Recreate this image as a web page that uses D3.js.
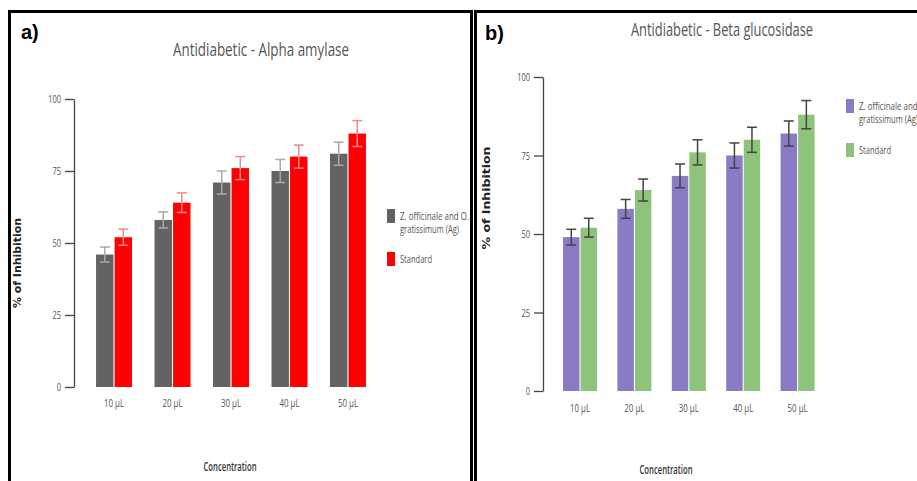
<!DOCTYPE html>
<html>
<head>
<meta charset="utf-8">
<script src="https://cdn.jsdelivr.net/npm/d3@7"></script>
<style>
  html, body { margin: 0; padding: 0; background: #fff; overflow: hidden; }
  svg { display: block; }
</style>
</head>
<body>
<svg id="chart" width="917" height="481"></svg>
<script>
// ---- data ----
const categories = ["10 µL", "20 µL", "30 µL", "40 µL", "50 µL"];
const yTicks = [0, 25, 50, 75, 100];
const seriesNames = ["Z. officinale and O. gratissimum (Ag)", "Standard"];

const alphaSample = [46, 58, 71, 75, 81];
const alphaSampleErr = [2.6, 2.8, 4, 4, 4];
const alphaStandard = [52, 64, 76, 80, 88];
const alphaStandardErr = [2.8, 3.4, 4, 4, 4.5];

const betaSample = [49, 58, 68.5, 75, 82];
const betaSampleErr = [2.5, 3, 3.8, 4, 4];
const betaStandard = [52, 64, 76, 80, 88];
const betaStandardErr = [3, 3.5, 4, 4, 4.5];

// ---- drawing ----
const svg = d3.select("#chart");
const narrow = "'Open Sans', 'DejaVu Sans', sans-serif";

// emulate a condensed face by compressing each text horizontally
function condense(sel, f) {
  sel.each(function () {
    const w = this.getComputedTextLength();
    d3.select(this).attr("textLength", w * f).attr("lengthAdjust", "spacingAndGlyphs");
  });
}
function fit(sel, w) {
  sel.attr("textLength", w).attr("lengthAdjust", "spacingAndGlyphs");
}

function drawPanel(cfg) {
  const g = svg.append("g");
  // frame
  g.append("rect")
    .attr("x", cfg.frame[0]).attr("y", cfg.frame[1])
    .attr("width", cfg.frame[2]).attr("height", cfg.frame[3])
    .attr("fill", "none").attr("stroke", "#000").attr("stroke-width", 3);

  const y = d3.scaleLinear().domain([0, 100]).range([cfg.y0, cfg.y100]);
  const x = d3.scaleBand().domain(categories).range(cfg.xRange)
    .paddingInner(cfg.padInner).paddingOuter(0.3);
  const xi = d3.scaleBand().domain([0, 1]).range([0, x.bandwidth()]).paddingInner(0.06);

  // y axis
  const ya = g.append("g").attr("transform", `translate(${cfg.axisX},0)`)
    .call(d3.axisLeft(y).tickValues(yTicks).tickSize(9).tickSizeOuter(0).tickPadding(4));
  ya.select(".domain").attr("stroke", "#444").attr("stroke-width", 1.3);
  ya.selectAll(".tick line").attr("stroke", "#444").attr("stroke-width", 1.3);
  const yt = ya.selectAll(".tick text").attr("fill", "#555").style("font-family", narrow).style("font-size", "11px");
  condense(yt, 0.68);

  // x axis labels
  const xa = g.append("g").attr("transform", `translate(0,${cfg.y0})`)
    .call(d3.axisBottom(x).tickSize(0).tickPadding(cfg.xPad));
  xa.select(".domain").remove();
  const xt = xa.selectAll(".tick text").attr("fill", "#555").style("font-family", narrow).style("font-size", "11px");
  condense(xt, 0.72);

  const series = [
    { vals: cfg.s1, errs: cfg.e1, color: cfg.c1, ec: cfg.ec1 },
    { vals: cfg.s2, errs: cfg.e2, color: cfg.c2, ec: cfg.ec2 }
  ];
  series.forEach((s, si) => {
    const sg = g.append("g");
    sg.selectAll("rect").data(categories).join("rect")
      .attr("x", (c) => x(c) + xi(si))
      .attr("width", xi.bandwidth())
      .attr("y", (c, i) => y(s.vals[i]))
      .attr("height", (c, i) => y(0) - y(s.vals[i]))
      .attr("fill", s.color);
    const eg = g.append("g").attr("stroke", s.ec).attr("stroke-width", 1.5).attr("fill", "none");
    categories.forEach((c, i) => {
      const cx = x(c) + xi(si) + xi.bandwidth() / 2;
      const hi = y(s.vals[i] + s.errs[i]), lo = y(s.vals[i] - s.errs[i]);
      eg.append("line").attr("x1", cx).attr("x2", cx).attr("y1", hi).attr("y2", lo);
      eg.append("line").attr("x1", cx - 5).attr("x2", cx + 5).attr("y1", hi).attr("y2", hi);
      eg.append("line").attr("x1", cx - 5).attr("x2", cx + 5).attr("y1", lo).attr("y2", lo);
    });
  });

  // title
  const tt = g.append("text").attr("x", cfg.titleX).attr("y", cfg.titleY)
    .attr("text-anchor", "middle").attr("fill", "#555")
    .style("font-family", narrow).style("font-size", "19px")
    .text(cfg.title);
  fit(tt, cfg.titleW);
  // panel letter
  g.append("text").attr("x", cfg.letterX).attr("y", cfg.letterY)
    .attr("fill", "#000").style("font-family", "'Liberation Sans', Arial, sans-serif")
    .style("font-size", "20px").style("font-weight", "bold").text(cfg.letter);
  // y label
  const yl = g.append("text")
    .attr("transform", `translate(${cfg.yLabX},${cfg.yLabY}) rotate(-90)`)
    .attr("text-anchor", "middle").attr("fill", "#222")
    .style("font-family", "'DejaVu Sans', Verdana, sans-serif")
    .style("font-size", cfg.yLabSize).style("font-weight", "bold")
    .text("% of Inhibition");
  fit(yl, cfg.yLabW);
  // x label
  const xl = g.append("text").attr("x", cfg.xLabX).attr("y", cfg.xLabY)
    .attr("text-anchor", "middle").attr("fill", "#333")
    .style("font-family", narrow).style("font-size", "12px").style("font-weight", "600")
    .text("Concentration");
  fit(xl, 53);

  // legend
  const lg = g.append("g");
  const lines1 = [cfg.legLine1, cfg.legLine2];
  const lineW = [69, 59];
  lg.append("rect").attr("x", cfg.legX).attr("y", cfg.legY1).attr("width", 8).attr("height", 14).attr("fill", cfg.c1);
  lines1.forEach((t, k) => {
    const lt = lg.append("text").attr("x", cfg.legX + 13).attr("y", cfg.legY1 + 11 + k * 13)
      .attr("fill", "#555").style("font-family", narrow).style("font-size", "10px").text(t);
    fit(lt, lineW[k]);
  });
  lg.append("rect").attr("x", cfg.legX).attr("y", cfg.legY2).attr("width", 8).attr("height", 14).attr("fill", cfg.c2);
  const st = lg.append("text").attr("x", cfg.legX + 13).attr("y", cfg.legY2 + 11)
    .attr("fill", "#555").style("font-family", narrow).style("font-size", "10px").text(seriesNames[1]);
  fit(st, 32);
}

drawPanel({
  frame: [9.5, 11.5, 462, 520],
  y0: 387, y100: 99, axisX: 74,
  xRange: [78.5, 383.5], padInner: 0.385, xPad: 12,
  s1: alphaSample, e1: alphaSampleErr, c1: "#636363", ec1: "#a8a8a8",
  s2: alphaStandard, e2: alphaStandardErr, c2: "#ff0000", ec2: "#f08a8a",
  title: "Antidiabetic - Alpha amylase", titleX: 261, titleY: 56, titleW: 176,
  letter: "a)", letterX: 21, letterY: 39,
  yLabX: 21, yLabY: 263, yLabSize: "10px", yLabW: 90,
  xLabX: 230, xLabY: 471,
  legX: 387, legY1: 209, legY2: 252,
  legLine1: "Z. officinale and O.", legLine2: "gratissimum (Ag)"
});

drawPanel({
  frame: [475.5, 11.5, 520, 520],
  y0: 391, y100: 77, axisX: 543,
  xRange: [546.7, 830.9], padInner: 0.375, xPad: 13,
  s1: betaSample, e1: betaSampleErr, c1: "#8b7bc5", ec1: "#444",
  s2: betaStandard, e2: betaStandardErr, c2: "#8dc37b", ec2: "#444",
  title: "Antidiabetic - Beta glucosidase", titleX: 722, titleY: 36, titleW: 182,
  letter: "b)", letterX: 485, letterY: 40,
  yLabX: 490, yLabY: 198, yLabSize: "11px", yLabW: 103,
  xLabX: 666, xLabY: 474,
  legX: 846, legY1: 99, legY2: 143,
  legLine1: "Z. officinale and O.", legLine2: "gratissimum (Ag)"
});
</script>
</body>
</html>
